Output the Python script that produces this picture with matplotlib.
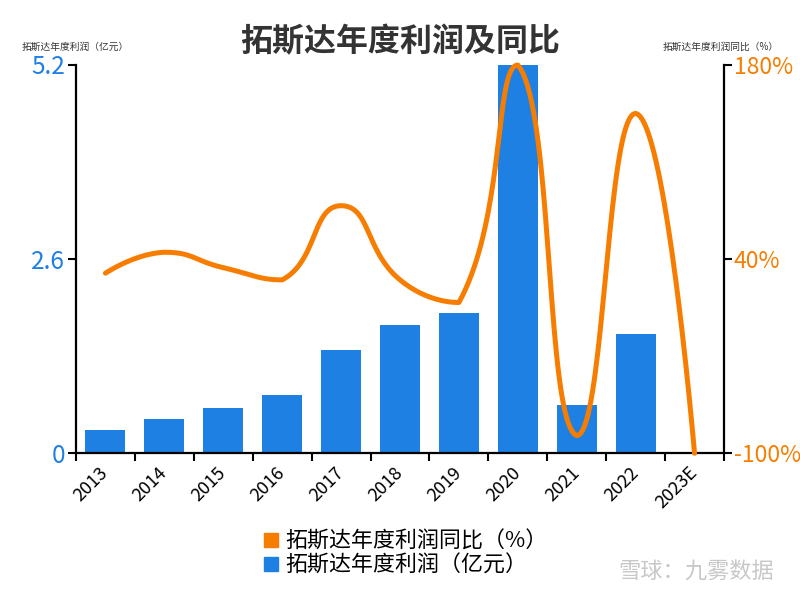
import numpy as np
import matplotlib
matplotlib.use('Agg')
import matplotlib.pyplot as plt
from matplotlib.lines import Line2D

plt.rcParams['font.family'] = ['Noto Sans CJK SC', 'DejaVu Sans']

years = ['2013', '2014', '2015', '2016', '2017', '2018', '2019', '2020', '2021', '2022', '2023E']
profit = [0.31, 0.46, 0.61, 0.78, 1.38, 1.72, 1.88, 5.2, 0.64, 1.59, 0]
yoy = [29.7, 44.8, 33.7, 24.9, 78.3, 24.9, 8.6, 179.6, -87.3, 144.8, -100]

bar_color = '#1E80E3'
line_color = '#F77D00'


def smooth_path(px, py, smooth=0.5):
    # echarts-style bezier smoothing, done in pixel space
    n = len(px)
    out_x, out_y = [px[0]], [py[0]]
    cp0 = (px[0], py[0])
    t = np.linspace(0, 1, 40)[1:]
    for k in range(1, n):
        x, y = px[k], py[k]
        nxt = None
        if k == n - 1:
            cp1 = (x, y)
        else:
            prx, pry = px[k - 1], py[k - 1]
            nx, ny = px[k + 1], py[k + 1]
            vx, vy = nx - prx, ny - pry
            l0 = np.hypot(x - prx, y - pry)
            l1 = np.hypot(nx - x, ny - y)
            r = l1 / (l0 + l1)
            c1x = x - vx * smooth * (1 - r)
            c1y = y - vy * smooth * (1 - r)
            n0x = x + vx * smooth * r
            n0y = y + vy * smooth * r
            # keep control points between neighbours (no overshoot)
            c1x = min(max(c1x, min(prx, x)), max(prx, x))
            c1y = min(max(c1y, min(pry, y)), max(pry, y))
            n0x = min(max(n0x, min(nx, x)), max(nx, x))
            n0y = min(max(n0y, min(ny, y)), max(ny, y))
            cp1 = (c1x, c1y)
            nxt = (n0x, n0y)
        p0 = (px[k - 1], py[k - 1])
        bx = ((1 - t) ** 3 * p0[0] + 3 * (1 - t) ** 2 * t * cp0[0]
              + 3 * (1 - t) * t ** 2 * cp1[0] + t ** 3 * x)
        by = ((1 - t) ** 3 * p0[1] + 3 * (1 - t) ** 2 * t * cp0[1]
              + 3 * (1 - t) * t ** 2 * cp1[1] + t ** 3 * y)
        out_x.extend(bx)
        out_y.extend(by)
        if nxt is not None:
            cp0 = nxt
    return np.array(out_x), np.array(out_y)


fig = plt.figure(figsize=(8, 6), dpi=100)
ax = fig.add_axes([0.095, 0.2445, 0.81, 0.648])
ax2 = ax.twinx()

x = np.arange(len(years))
ax.bar(x, profit, width=0.68, color=bar_color, zorder=2)

ax.set_xlim(-0.5, len(years) - 0.5)
ax.set_ylim(0, 5.2)
ax.set_yticks([0, 2.6, 5.2])
ax.set_yticklabels(['0', '2.6', '5.2'])
ax2.set_ylim(-100, 180)
ax2.set_yticks([-100, 40, 180])
ax2.set_yticklabels(['-100%', '40%', '180%'])

# category boundaries as major ticks, labels on minor ticks
ax.set_xticks(np.arange(len(years) + 1) - 0.5)
ax.set_xticklabels([])
ax.set_xticks(x, minor=True)
ax.set_xticklabels(years, minor=True, rotation=45, ha='right', va='center',
                   rotation_mode='anchor', fontsize=13)
ax.tick_params(axis='x', which='minor', length=0, pad=12)
ax.tick_params(axis='x', which='major', length=6, width=1.5, direction='out')
ax.tick_params(axis='y', length=6, width=1.5, labelsize=17.5,
               labelcolor=bar_color, pad=2)
ax2.tick_params(axis='y', length=6, width=1.5, labelsize=16.5,
                labelcolor=line_color, pad=1)

for a in (ax, ax2):
    for s in a.spines.values():
        s.set_linewidth(1.6)
    a.spines['top'].set_visible(False)
ax.spines['right'].set_visible(False)
ax2.spines['left'].set_visible(False)
ax2.spines['bottom'].set_visible(False)

# smooth yoy line in pixel space
pts = ax2.transData.transform(np.column_stack([x, yoy]))
sx, sy = smooth_path(pts[:, 0], pts[:, 1])
curve = ax2.transData.inverted().transform(np.column_stack([sx, sy]))
ax2.plot(curve[:, 0], curve[:, 1], color=line_color, lw=3.6,
         solid_capstyle='round', clip_on=False, zorder=3)

fig.text(0.5, 0.93, '拓斯达年度利润及同比', ha='center', va='center',
         fontsize=23, fontweight='bold', color='#333333')
fig.text(0.027, 0.922, '拓斯达年度利润（亿元）', ha='left', va='center',
         fontsize=7, color='#333333')
fig.text(0.973, 0.922, '拓斯达年度利润同比（%）', ha='right', va='center',
         fontsize=7, color='#333333')

handles = [
    Line2D([], [], marker='s', color=line_color, ls='', markersize=10),
    Line2D([], [], marker='s', color=bar_color, ls='', markersize=10),
]
fig.legend(handles, ['拓斯达年度利润同比（%）', '拓斯达年度利润（亿元）'],
           loc='center', bbox_to_anchor=(0.507, 0.077), frameon=False,
           fontsize=15.8, handlelength=0.7, handletextpad=0.3,
           labelspacing=0.1, borderpad=0)

fig.text(0.968, 0.047, '雪球：九雾数据', ha='right', va='center',
         fontsize=16, color='#c8c8c8')

fig.savefig('out.png', dpi=100)
